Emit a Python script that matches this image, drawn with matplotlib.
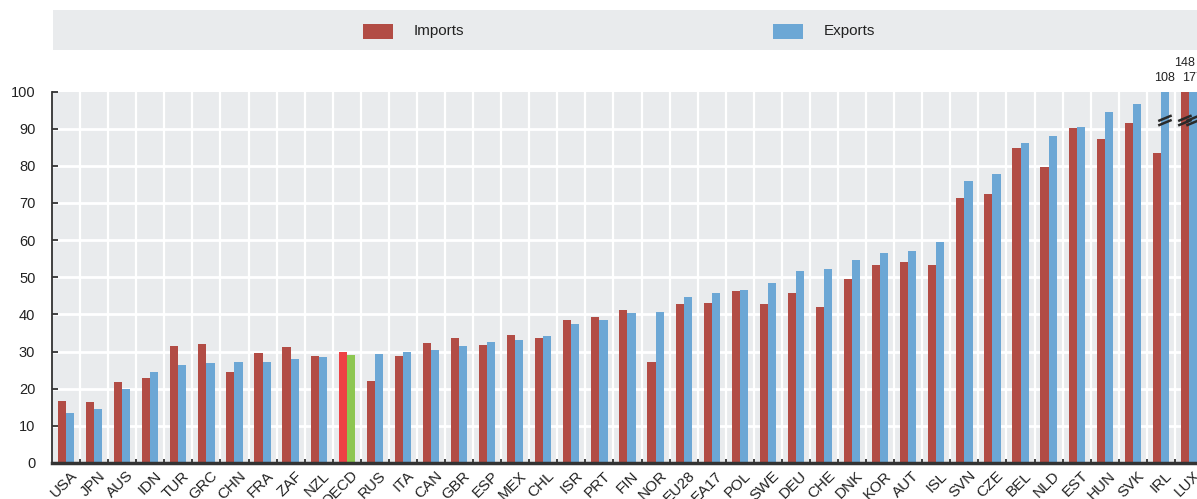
import matplotlib
matplotlib.use("Agg")
import matplotlib.pyplot as plt
from matplotlib.patches import Rectangle
from matplotlib.transforms import ScaledTranslation
import numpy as np

plt.rcParams['font.family'] = ['Liberation Sans', 'DejaVu Sans']

countries = ["USA", "JPN", "AUS", "IDN", "TUR", "GRC", "CHN", "FRA", "ZAF", "NZL",
             "OECD", "RUS", "ITA", "CAN", "GBR", "ESP", "MEX", "CHL", "ISR", "PRT",
             "FIN", "NOR", "EU28", "EA17", "POL", "SWE", "DEU", "CHE", "DNK", "KOR",
             "AUT", "ISL", "SVN", "CZE", "BEL", "NLD", "EST", "HUN", "SVK", "IRL", "LUX"]
imports = [16.8, 16.5, 21.8, 22.8, 31.4, 31.9, 24.4, 29.6, 31.1, 28.8,
           29.8, 22.0, 28.9, 32.2, 33.7, 31.8, 34.5, 33.7, 38.4, 39.2,
           41.3, 27.3, 42.7, 43.2, 46.2, 42.7, 45.8, 41.9, 49.6, 53.4,
           54.0, 53.2, 71.2, 72.3, 84.9, 79.6, 90.3, 87.3, 91.4, 83.5, 148]
exports = [13.4, 14.5, 19.8, 24.5, 26.3, 26.9, 27.2, 27.3, 28.1, 28.5,
           29.0, 29.3, 30.0, 30.3, 31.5, 32.6, 33.0, 34.1, 37.4, 38.6,
           40.5, 40.6, 44.6, 45.7, 46.6, 48.4, 51.7, 52.2, 54.7, 56.5,
           57.2, 59.4, 76.0, 77.9, 86.2, 88.0, 90.5, 94.6, 96.6, 108, 177]
yticks = [0, 10, 20, 30, 40, 50, 60, 70, 80, 90, 100]
highlight = "OECD"

C_IMP = "#B24C45"
C_EXP = "#6CA7D5"
C_IMP_H = "#EE4144"
C_EXP_H = "#8DC651"
BG = "#E9EBED"
DARK = "#333333"
TXT = "#222222"

W, H = 1197, 499
fig = plt.figure(figsize=(W / 100, H / 100), dpi=100)

# legend box
fig.patches.append(Rectangle((53 / W, 1 - 50 / H), 1.0, 40 / H, transform=fig.transFigure,
                             facecolor=BG, edgecolor="none", zorder=0))
fig.patches.append(Rectangle((363 / W, 1 - 39 / H), 30 / W, 15 / H, transform=fig.transFigure,
                             facecolor=C_IMP, edgecolor="none"))
fig.patches.append(Rectangle((773 / W, 1 - 39 / H), 30 / W, 15 / H, transform=fig.transFigure,
                             facecolor=C_EXP, edgecolor="none"))
fig.text(414 / W, 1 - 31 / H, "Imports", fontsize=11, color=TXT, va="center", ha="left")
fig.text(824 / W, 1 - 31 / H, "Exports", fontsize=11, color=TXT, va="center", ha="left")

left, right = 52, 1203
bottom, top = 463, 91.5
ax = fig.add_axes([left / W, 1 - bottom / H, (right - left) / W, (bottom - top) / H])
ax.set_facecolor(BG)

n = len(countries)
x = np.arange(n)
bw = 0.29
ci = [C_IMP_H if c == highlight else C_IMP for c in countries]
ce = [C_EXP_H if c == highlight else C_EXP for c in countries]
ax.bar(x - bw / 2, imports, width=bw, color=ci, zorder=3, linewidth=0)
ax.bar(x + bw / 2, exports, width=bw, color=ce, zorder=3, linewidth=0)

ax.set_xlim(-0.5, n - 0.5)
ax.set_ylim(0, 100)

# grid
for b in np.arange(0.5, n - 0.5, 1):
    ax.axvline(b, color="white", lw=1.6, zorder=1)
for yv in yticks[1:-1]:
    ax.axhline(yv, color="white", lw=2.0, zorder=1)

ax.set_yticks(yticks)
ax.set_yticklabels([str(v) for v in yticks])
ax.tick_params(axis="y", direction="in", length=4.5, width=1.3, color=DARK, pad=12,
               labelsize=10.5, labelcolor=TXT)
ax.set_xticks(np.arange(0.5, n - 0.5, 1))
ax.set_xticklabels([])
ax.tick_params(axis="x", which="major", direction="in", length=3, width=1.3, color=DARK)
ax.set_xticks(x, minor=True)
ax.set_xticklabels(countries, minor=True, rotation=45, ha="right", va="top",
                   rotation_mode="anchor", fontsize=11, color=TXT)
ax.tick_params(axis="x", which="minor", length=0, pad=4)
off = ScaledTranslation(4 / 100, 0, fig.dpi_scale_trans)
for lab in ax.get_xticklabels(minor=True):
    lab.set_transform(lab.get_transform() + off)

for s in ["top", "right"]:
    ax.spines[s].set_visible(False)
ax.spines["left"].set_color(DARK)
ax.spines["left"].set_linewidth(1.3)
ax.spines["bottom"].set_color(DARK)
ax.spines["bottom"].set_linewidth(2.5)
ax.spines["bottom"].set_zorder(5)

# overflow labels and break marks
for i, c in enumerate(countries):
    for val, xc, is_imp in ((imports[i], x[i] - bw / 2, True), (exports[i], x[i] + bw / 2, False)):
        if val > 100:
            dx, dy = 0.24, 0.75
            for yy in (91.6, 92.8):
                ax.plot([xc - dx, xc + dx], [yy - dy, yy + dy], color="#2a2a2a", lw=1.8,
                        zorder=6, clip_on=False, solid_capstyle="butt")
            ly = 107.6 if (c == "LUX" and is_imp) else 103.6
            ax.text(xc, ly, f"{val:g}", ha="center", va="center", fontsize=9,
                    color=TXT, clip_on=False)

fig.savefig("out.png", dpi=100)
